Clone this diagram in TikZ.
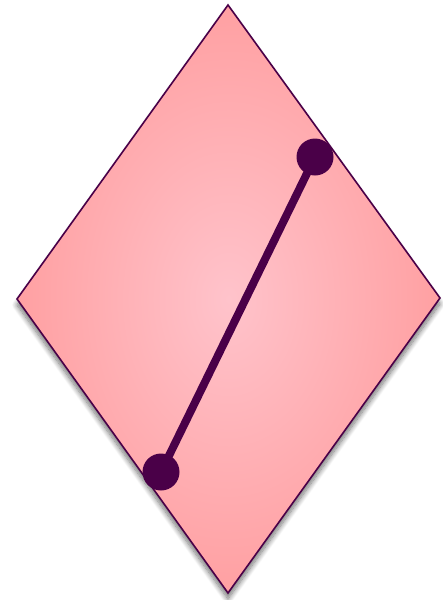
\documentclass[tikz,border=0pt]{standalone}
\usetikzlibrary{shadows.blur}
\definecolor{edgep}{HTML}{4A0048}
\definecolor{pinkin}{HTML}{FFC3CB}
\definecolor{pinkout}{HTML}{FFA0A2}
\tikzset{
  rhomb/.style={draw=edgep, line width=1.6pt, inner color=pinkin, outer color=pinkout,
    blur shadow={shadow xshift=0pt, shadow yshift=-6pt, shadow blur steps=10, shadow blur radius=5pt, shadow opacity=55}},
  dot/.style={circle, fill=edgep, minimum size=37pt, inner sep=0pt},
  seg/.style={draw=edgep, line width=8pt}
}
\begin{document}
\begin{tikzpicture}[x=1pt,y=-1pt]
\useasboundingbox (0,0) rectangle (443,600);
\path[rhomb] (228,5) -- (440,298) -- (228,593) -- (17,299) -- cycle;
\node[dot] (a) at (315,157) {};
\node[dot] (b) at (161,472) {};
\draw[seg] (a.center) -- (b.center);
\end{tikzpicture}
\end{document}
